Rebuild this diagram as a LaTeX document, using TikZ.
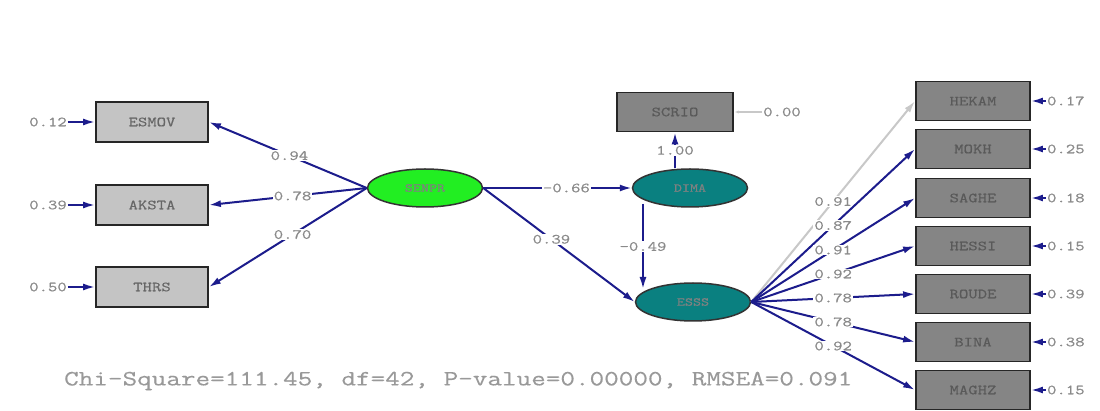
\documentclass[tikz,border=0pt]{standalone}
\usepackage{fontspec}
\newfontfamily\lblfont[FakeStretch=1.3,FakeBold=0.6]{Latin Modern Mono}
\newfontfamily\fitfont[FakeStretch=1.3,FakeBold=0.3]{Latin Modern Mono}
\usetikzlibrary{arrows.meta,shapes.geometric}
\definecolor{edgeblue}{HTML}{1C1C8C}
\definecolor{lightbox}{HTML}{C4C4C4}
\definecolor{darkbox}{HTML}{858585}
\definecolor{lblgray}{HTML}{8A8A8A}
\definecolor{fitgray}{HTML}{999999}
\definecolor{latgreen}{HTML}{22EE22}
\definecolor{latteal}{HTML}{0A8080}
\definecolor{paleline}{HTML}{C8C8C8}
\tikzset{
  obslight/.style={draw=black!85, line width=1.8pt, fill=lightbox, minimum width=112pt, minimum height=40pt, inner sep=0pt, font=\lblfont\fontsize{14}{14}\selectfont, text=black!60},
  obsdark/.style={draw=black!85, line width=1.8pt, fill=darkbox, minimum width=114pt, minimum height=39pt, inner sep=0pt, font=\lblfont\fontsize{14}{14}\selectfont, text=black!65},
  latent/.style={ellipse, draw=black!80, line width=1.5pt, minimum width=115pt, minimum height=38pt, inner sep=0pt, font=\lblfont\fontsize{12}{12}\selectfont, text=black!50},
  errlbl/.style={font=\lblfont\fontsize{14}{14}\selectfont, text=lblgray, inner sep=1pt},
  coef/.style={font=\lblfont\fontsize{14}{14}\selectfont, text=lblgray, fill=white, inner sep=1pt},
  path/.style={draw=edgeblue, line width=2pt, -{Latex[length=12pt,width=7pt]}},
  palepath/.style={draw=paleline, line width=2pt, -{Latex[length=12pt,width=7pt]}},
}
\begin{document}
\begin{tikzpicture}[x=1pt,y=-1pt]
\useasboundingbox (0,0) rectangle (1100,411);
\fill[white] (0,0) rectangle (1100,411);
% left indicators
\node[obslight] (esmov) at (152,122) {ESMOV};
\node[obslight] (aksta) at (152,205) {AKSTA};
\node[obslight] (thrs) at (152,287) {THRS};
\node[errlbl] (e1) at (48,122) {0.12};
\node[errlbl] (e2) at (48,205) {0.39};
\node[errlbl] (e3) at (48,287) {0.50};
\draw[path] (e1.east) -- (esmov.west);
\draw[path] (e2.east) -- (aksta.west);
\draw[path] (e3.east) -- (thrs.west);
% latents
\node[latent, fill=latgreen] (senpr) at (425,188) {SENPR};
\node[latent, fill=latteal] (dima) at (690,188) {DIMA};
\node[latent, fill=latteal] (esss) at (693,302) {ESSS};
% SCRIO
\node[obsdark, minimum width=116pt] (scrio) at (675,112) {SCRIO};
\node[errlbl] (e0) at (782,112) {0.00};
\draw[draw=paleline, line width=1.5pt, -{Latex[length=5pt,width=3pt]}] (e0.west) -- (scrio.east);
% right indicators
\node[obsdark] (hekam) at (973,101) {HEKAM};
\node[obsdark] (mokh) at (973,149) {MOKH};
\node[obsdark] (saghe) at (973,198) {SAGHE};
\node[obsdark] (hessi) at (973,246) {HESSI};
\node[obsdark] (roude) at (973,294) {ROUDE};
\node[obsdark] (bina) at (973,342) {BINA};
\node[obsdark] (maghz) at (973,390) {MAGHZ};
\foreach \b/\v in {hekam/0.17, mokh/0.25, saghe/0.18, hessi/0.15, roude/0.39, bina/0.38, maghz/0.15}{
  \node[errlbl, anchor=west] (err\b) at ([xshift=15pt]\b.east) {\v};
  \draw[path] (err\b.west) -- (\b.east);
}
% SENPR loadings
\draw[path] (senpr.west) -- node[coef, pos=0.49] {0.94} (esmov.east);
\draw[path] (senpr.west) -- node[coef, pos=0.47] {0.78} (aksta.east);
\draw[path] (senpr.west) -- node[coef, pos=0.47] {0.70} (thrs.east);
% structural paths
\draw[path] (senpr.east) -- node[coef, pos=0.56] {-0.66} (dima.west);
\draw[path] (senpr.east) -- node[coef, pos=0.45] {0.39} (esss.west);
\coordinate (dimab) at (643,204);
\coordinate (esssT) at (643,289);
\draw[path] (dimab) -- node[coef, pos=0.5] {-0.49} (esssT);
\draw[path] (dima.north -| scrio.south) -- node[coef, pos=0.5] {1.00} (scrio.south);
% ESSS loadings
\draw[palepath] (esss.east) -- node[coef, pos=0.5] {0.91} (hekam.west);
\draw[path] (esss.east) -- node[coef, pos=0.5] {0.87} (mokh.west);
\draw[path] (esss.east) -- node[coef, pos=0.5] {0.91} (saghe.west);
\draw[path] (esss.east) -- node[coef, pos=0.5] {0.92} (hessi.west);
\draw[path] (esss.east) -- node[coef, pos=0.5] {0.78} (roude.west);
\draw[path] (esss.east) -- node[coef, pos=0.5] {0.78} (bina.west);
\draw[path] (esss.east) -- node[coef, pos=0.5] {0.92} (maghz.west);
% fit statistics
\node[font=\fitfont\fontsize{21.8}{21.8}\selectfont, text=fitgray, anchor=west, inner sep=0pt] (fit) at (64,381) {Chi-Square=111.45, df=42, P-value=0.00000, RMSEA=0.091};
\end{tikzpicture}
\end{document}
